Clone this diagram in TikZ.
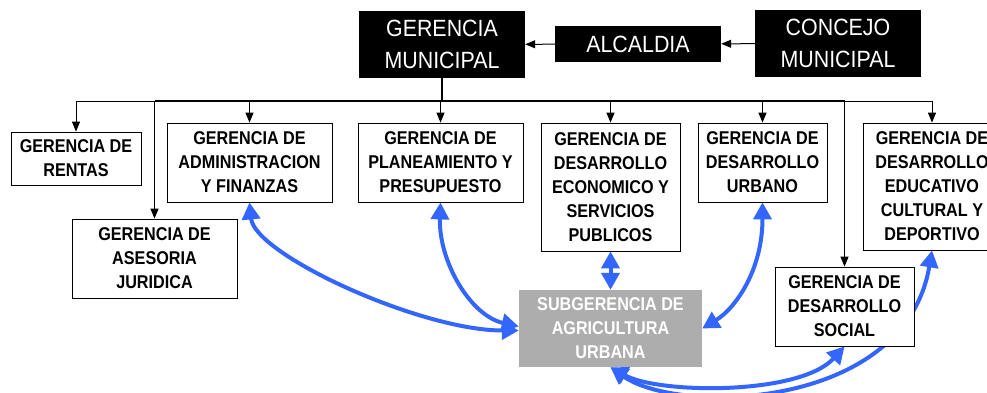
\documentclass[tikz,border=0pt]{standalone}
\usepackage{fontspec}
\newfontfamily\smallfont[FakeStretch=0.875]{Liberation Sans Bold}
\newfontfamily\bigfont[FakeStretch=0.91]{Liberation Sans}
\usetikzlibrary{arrows.meta,backgrounds}
\definecolor{bluearr}{RGB}{51,102,255}
\definecolor{subgray}{RGB}{173,173,173}
\tikzset{
  topbox/.style={fill=black, text=white, inner sep=0pt, align=center,
    font=\bigfont\fontsize{23.5}{32}\selectfont},
  unitbox/.style={draw=black, line width=0.8pt, fill=white, inner sep=0pt, align=center,
    font=\smallfont\fontsize{18.5}{24}\selectfont},
  subbox/.style={fill=subgray, text=white, inner sep=0pt, align=center,
    font=\smallfont\fontsize{18.5}{24}\selectfont},
  link/.style={line width=1pt, -{Triangle[length=10pt,width=8pt]}},
  busline/.style={line width=1pt},
  bluelink/.style={draw=bluearr, line width=4pt,
    {Triangle[length=17pt,width=18pt]}-{Triangle[length=17pt,width=18pt]}},
}
\begin{document}
\begin{tikzpicture}[x=1pt,y=-1pt]
\useasboundingbox (0,0) rectangle (987,392);
\clip (0,0) rectangle (987,392);
% top
\node[topbox, minimum width=166pt, minimum height=67pt] (gm) at (442,44.5) {GERENCIA\\MUNICIPAL};
\node[topbox, minimum width=166pt, minimum height=36pt] (alc) at (638,44) {ALCALDIA};
\node[topbox, minimum width=166pt, minimum height=67pt] (cm) at (838,43.5) {CONCEJO\\MUNICIPAL};
% units
\node[unitbox, minimum width=130pt, minimum height=53pt] (rentas) at (76,158.5) {GERENCIA DE\\RENTAS};
\node[unitbox, minimum width=165pt, minimum height=79pt] (asesoria) at (154.5,258.5) {GERENCIA DE\\ASESORIA\\JURIDICA};
\node[unitbox, minimum width=165pt, minimum height=79pt] (admin) at (249.5,162.5) {GERENCIA DE\\ADMINISTRACION\\Y FINANZAS};
\node[unitbox, minimum width=165pt, minimum height=79pt] (plan) at (440.5,162.5) {GERENCIA DE\\PLANEAMIENTO Y\\PRESUPUESTO};
\node[unitbox, minimum width=139pt, minimum height=128pt] (econ) at (610.5,187) {GERENCIA DE\\DESARROLLO\\ECONOMICO Y\\SERVICIOS\\PUBLICOS};
\node[unitbox, minimum width=129pt, minimum height=79pt] (urb) at (762.5,162.5) {GERENCIA DE\\DESARROLLO\\URBANO};
\node[unitbox, minimum width=138pt, minimum height=127pt] (edu) at (932,186.5) {GERENCIA DE\\DESARROLLO\\EDUCATIVO\\CULTURAL Y\\DEPORTIVO};
\node[unitbox, minimum width=139pt, minimum height=79pt] (social) at (844.5,306.5) {GERENCIA DE\\DESARROLLO\\SOCIAL};
\node[subbox, minimum width=183pt, minimum height=77pt] (subg) at (610.5,328.5) {SUBGERENCIA DE\\AGRICULTURA\\URBANA};
% top connectors
\draw[link] (alc) -- (gm);
\draw[link] (cm) -- (alc);
% bus
\coordinate (busL) at (76,101);
\coordinate (busR) at (932,101);
\draw[line width=1.6pt] (gm.south) -- (gm.south |- busL);
\draw[busline] (busL) -- (busR);
\draw[line width=1.6pt] (asesoria.north |- busL) -- (social.north |- busL);
\draw[link] (rentas.north |- busL) -- (rentas.north);
\draw[link] (asesoria.north |- busL) -- (asesoria.north);
\draw[link] (admin.north |- busL) -- (admin.north);
\draw[link] (plan.north |- busL) -- (plan.north);
\draw[link] (econ.north |- busL) -- (econ.north);
\draw[link] (urb.north |- busL) -- (urb.north);
\draw[link] (social.north |- busL) -- (social.north);
\draw[link] (edu.north |- busL) -- (edu.north);
% blue links
\begin{scope}[on background layer]
\draw[bluelink] (admin.south) .. controls +(5,52) and +(-99,0) .. ([yshift=-2pt]subg.west);
\draw[bluelink] (plan.south) .. controls +(-2,58) and +(-49,-11) .. ([yshift=2pt]subg.west);
\draw[bluelink] (econ.south) -- (subg.north);
\draw[bluelink] (urb.south) .. controls +(0,68) and +(33,-20) .. (subg.east);
\draw[bluelink] (subg.south) .. controls +(48,27) and +(-44.5,49) .. (social.south);
\draw[bluelink] (subg.south) .. controls +(68,48) and +(-27,160) .. (edu.south);
\end{scope}
\end{tikzpicture}
\end{document}
